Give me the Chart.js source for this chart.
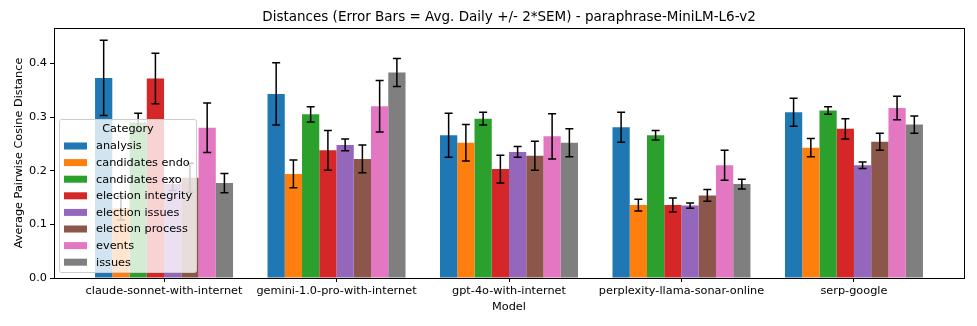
<!DOCTYPE html>
<html>
<head>
<meta charset="utf-8">
<title>Distances - paraphrase-MiniLM-L6-v2</title>
<script src="https://cdn.jsdelivr.net/npm/chart.js@4.4.1/dist/chart.umd.min.js"></script>
<style>
    html, body { margin: 0; padding: 0; background: #ffffff; }
    #wrap { width: 977px; height: 326px; }
</style>
</head>
<body>
<div id="wrap"><canvas id="chart" width="977" height="326"></canvas></div>
<script>
// models on the x axis
const models = [
    'claude-sonnet-with-internet',
    'gemini-1.0-pro-with-internet',
    'gpt-4o-with-internet',
    'perplexity-llama-sonar-online',
    'serp-google'
];
const categories = ['analysis', 'candidates endo', 'candidates exo', 'election integrity',
    'election issues', 'election process', 'events', 'issues'];
const colors = ['#1f77b4', '#ff7f0e', '#2ca02c', '#d62728', '#9467bd', '#8c564b', '#e377c2', '#7f7f7f'];

// mean distance per category (one value per model)
const analysis          = [0.373, 0.343, 0.266, 0.281, 0.309];
const candidatesEndo    = [0.130, 0.194, 0.252, 0.136, 0.243];
const candidatesExo     = [0.290, 0.305, 0.297, 0.266, 0.312];
const electionIntegrity = [0.372, 0.238, 0.203, 0.136, 0.278];
const electionIssues    = [0.175, 0.248, 0.235, 0.135, 0.210];
const electionProcess   = [0.187, 0.222, 0.228, 0.154, 0.254];
const events            = [0.280, 0.320, 0.264, 0.210, 0.317];
const issues            = [0.177, 0.383, 0.252, 0.175, 0.286];

// half length of error bar (2*SEM)
const analysisErr          = [0.070, 0.058, 0.041, 0.028, 0.026];
const candidatesEndoErr    = [0.022, 0.026, 0.034, 0.011, 0.017];
const candidatesExoErr     = [0.017, 0.014, 0.012, 0.009, 0.007];
const electionIntegrityErr = [0.047, 0.037, 0.026, 0.013, 0.019];
const electionIssuesErr    = [0.012, 0.011, 0.010, 0.005, 0.006];
const electionProcessErr   = [0.027, 0.026, 0.027, 0.011, 0.016];
const eventsErr            = [0.046, 0.048, 0.042, 0.028, 0.022];
const issuesErr            = [0.018, 0.026, 0.026, 0.009, 0.016];

const yTicks = [0.0, 0.1, 0.2, 0.3, 0.4];

const values = [analysis, candidatesEndo, candidatesExo, electionIntegrity,
    electionIssues, electionProcess, events, issues];
const errors = [analysisErr, candidatesEndoErr, candidatesExoErr, electionIntegrityErr,
    electionIssuesErr, electionProcessErr, eventsErr, issuesErr];

const FONT = "'DejaVu Sans', sans-serif";
const FS = 11.3;   // 10pt in the original figure

const datasets = categories.map((cat, i) => ({
    label: cat,
    data: values[i].map((v, j) => ({ x: j, y: v })),
    errors: errors[i],
    backgroundColor: colors[i],
    borderWidth: 0,
    categoryPercentage: 0.8,
    barPercentage: 1.0
}));

// error bars drawn on top of the bars
const errorBarPlugin = {
    id: 'errorBars',
    afterDatasetsDraw(chart) {
        const ctx = chart.ctx;
        const yScale = chart.scales.y;
        ctx.save();
        ctx.strokeStyle = '#000';
        ctx.lineWidth = 1.5;
        chart.data.datasets.forEach((ds, i) => {
            const meta = chart.getDatasetMeta(i);
            meta.data.forEach((bar, j) => {
                const v = ds.data[j].y;
                const e = ds.errors[j];
                const top = yScale.getPixelForValue(v + e);
                const bot = yScale.getPixelForValue(v - e);
                ctx.beginPath();
                ctx.moveTo(bar.x, top);
                ctx.lineTo(bar.x, bot);
                ctx.moveTo(bar.x - 4, top);
                ctx.lineTo(bar.x + 4, top);
                ctx.moveTo(bar.x - 4, bot);
                ctx.lineTo(bar.x + 4, bot);
                ctx.stroke();
            });
        });
        ctx.restore();
    }
};

// title, axis titles, frame and legend inside the plot
const decorPlugin = {
    id: 'decor',
    afterDraw(chart) {
        const ctx = chart.ctx;
        const a = chart.chartArea;
        ctx.save();
        // frame
        ctx.strokeStyle = '#000';
        ctx.lineWidth = 1;
        ctx.strokeRect(Math.round(a.left) + 0.5, Math.round(a.top) + 0.5,
            Math.round(a.right - a.left), Math.round(a.bottom - a.top));

        // titles
        ctx.fillStyle = '#000';
        ctx.textAlign = 'center';
        ctx.textBaseline = 'alphabetic';
        ctx.font = '13.5px ' + FONT;
        ctx.fillText('Distances (Error Bars = Avg. Daily +/- 2*SEM) - paraphrase-MiniLM-L6-v2',
            (a.left + a.right) / 2, 21);
        ctx.font = FS + 'px ' + FONT;
        ctx.fillText('Model', (a.left + a.right) / 2, 310);
        ctx.save();
        ctx.translate(22, (a.top + a.bottom) / 2);
        ctx.rotate(-Math.PI / 2);
        ctx.fillText('Average Pairwise Cosine Distance', 0, 0);
        ctx.restore();

        // legend box
        ctx.textBaseline = 'middle';
        const lx = 59.5, ly = 119.5, lw = 137, lh = 153;
        ctx.fillStyle = 'rgba(255,255,255,0.8)';
        ctx.strokeStyle = '#cccccc';
        ctx.lineWidth = 1;
        ctx.beginPath();
        ctx.roundRect(lx, ly, lw, lh, 2);
        ctx.fill();
        ctx.stroke();
        ctx.fillStyle = '#000';
        ctx.textAlign = 'center';
        ctx.fillText('Category', lx + lw / 2, 129.5);
        ctx.textAlign = 'left';
        categories.forEach((cat, i) => {
            const cy = 146 + i * 16.6;
            ctx.fillStyle = colors[i];
            ctx.fillRect(64, cy - 3.5, 23, 7);
            ctx.fillStyle = '#000';
            ctx.fillText(cat, 96, cy + 0.5);
        });
        ctx.restore();
    }
};

new Chart(document.getElementById('chart'), {
    type: 'bar',
    data: { datasets: datasets },
    options: {
        responsive: false,
        animation: false,
        devicePixelRatio: 1,
        layout: { padding: { top: 28, right: 13, left: 0, bottom: 0 } },
        plugins: {
            legend: { display: false },
            tooltip: { enabled: false },
            title: { display: false }
        },
        scales: {
            x: {
                type: 'linear',
                min: -0.638,
                max: 4.638,
                offset: false,
                grid: { display: true, drawOnChartArea: false, drawTicks: true, tickLength: 4, color: '#000', offset: false },
                border: { display: true, color: '#000', width: 1 },
                afterBuildTicks(scale) {
                    scale.ticks = models.map((m, i) => ({ value: i }));
                },
                afterFit(scale) { scale.height = 48; },
                ticks: {
                    color: '#000',
                    font: { family: FONT, size: FS },
                    padding: 2,
                    maxRotation: 0,
                    autoSkip: false,
                    callback: (v) => models[v]
                }
            },
            y: {
                min: 0,
                max: 0.466,
                grid: { display: true, drawOnChartArea: false, drawTicks: true, tickLength: 4, color: '#000' },
                border: { display: true, color: '#000', width: 1 },
                afterBuildTicks(scale) {
                    scale.ticks = yTicks.map(v => ({ value: v }));
                },
                afterFit(scale) { scale.width = 54; },
                ticks: {
                    color: '#000',
                    font: { family: FONT, size: FS },
                    padding: 3,
                    callback: (v) => v.toFixed(1)
                }
            }
        }
    },
    plugins: [errorBarPlugin, decorPlugin]
});
</script>
</body>
</html>
